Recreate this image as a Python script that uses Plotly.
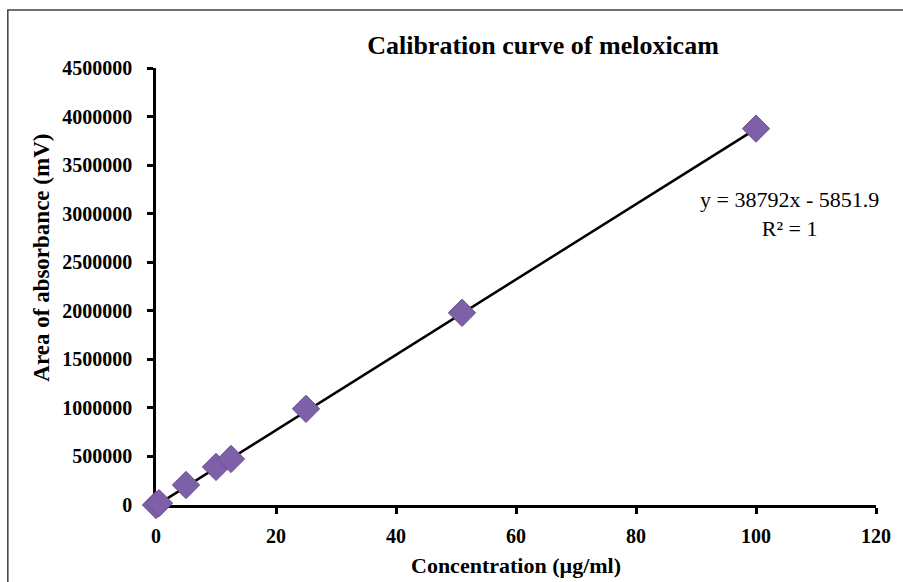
import plotly.graph_objects as go
import numpy as np

# Data
concentration = [0, 0.5, 5, 10, 12.5, 25, 51, 100]          # µg/ml
area = [0, 19000, 206000, 392000, 474000, 990000, 1979000, 3876000]  # mV

# Linear trendline parameters shown on chart
slope = 38792
intercept = -5851.9
equation_text = "y = 38792x - 5851.9<br>R² = 1"

x_ticks = [0, 20, 40, 60, 80, 100, 120]
y_ticks = [0, 500000, 1000000, 1500000, 2000000, 2500000, 3000000, 3500000, 4000000, 4500000]

FONT = "Liberation Serif"

trend_x = np.array([min(concentration), max(concentration)])
trend_y = slope * trend_x + intercept

fig = go.Figure()
fig.add_trace(go.Scatter(
    x=trend_x, y=trend_y, mode="lines",
    line=dict(color="black", width=2.5),
    showlegend=False, hoverinfo="skip", cliponaxis=False,
))
fig.add_trace(go.Scatter(
    x=concentration, y=area, mode="markers",
    marker=dict(symbol="diamond", size=21, color="#7E60A8",
                line=dict(color="#6A4C94", width=1)),
    showlegend=False, cliponaxis=False,
))

fig.update_layout(
    width=903, height=582,
    margin=dict(l=156, r=23, t=68, b=77),
    paper_bgcolor="white", plot_bgcolor="white",
    font=dict(family=FONT, color="black"),
    title=dict(
        text="<b>Calibration curve of meloxicam</b>",
        x=543 / 903, xanchor="center", xref="container",
        y=1 - 45 / 582, yanchor="middle", yref="container",
        font=dict(family=FONT, size=26, color="black", weight="bold"),
    ),
    xaxis=dict(
        range=[0, 120], tickvals=x_ticks,
        ticktext=[str(v) for v in x_ticks],
        showgrid=False, zeroline=False,
        showline=True, linecolor="black", linewidth=2.5,
        ticks="outside", ticklen=6, tickwidth=2.5, tickcolor="black",
        tickfont=dict(family=FONT, size=20, color="black", weight="bold"),
        ticklabelstandoff=5, layer="below traces",
    ),
    yaxis=dict(
        range=[0, 4500000], tickvals=y_ticks,
        ticktext=[str(v) for v in y_ticks],
        showgrid=False, zeroline=False,
        showline=True, linecolor="black", linewidth=2.5,
        ticks="outside", ticklen=6, tickwidth=2.5, tickcolor="black",
        tickfont=dict(family=FONT, size=20, color="black", weight="bold"),
        ticklabelstandoff=11, layer="below traces",
    ),
    annotations=[
        dict(text="Concentration (µg/ml)", xref="paper", yref="paper",
             x=0.5, y=(505 - 565) / 437, xanchor="center", yanchor="middle",
             showarrow=False, font=dict(family=FONT, size=22, color="black", weight="bold")),
        dict(text="Area of absorbance (mV)", xref="paper", yref="paper",
             x=(40 - 156) / 724, y=(505 - 258) / 437, xanchor="center", yanchor="middle",
             textangle=-90, showarrow=False,
             font=dict(family=FONT, size=23, color="black", weight="bold")),
        dict(text=equation_text, xref="paper", yref="paper",
             x=(793 - 156) / 724, y=(505 - 214) / 437, xanchor="center", yanchor="middle",
             align="center", showarrow=False,
             font=dict(family=FONT, size=22, color="black")),
    ],
    shapes=[
        dict(type="rect", xref="paper", yref="paper",
             x0=(7 - 156) / 724, x1=1.2, y0=-0.4, y1=1 + (68 - 10) / 437,
             line=dict(color="#404040", width=1.5), layer="below"),
    ],
)

fig.write_html("out.html")
